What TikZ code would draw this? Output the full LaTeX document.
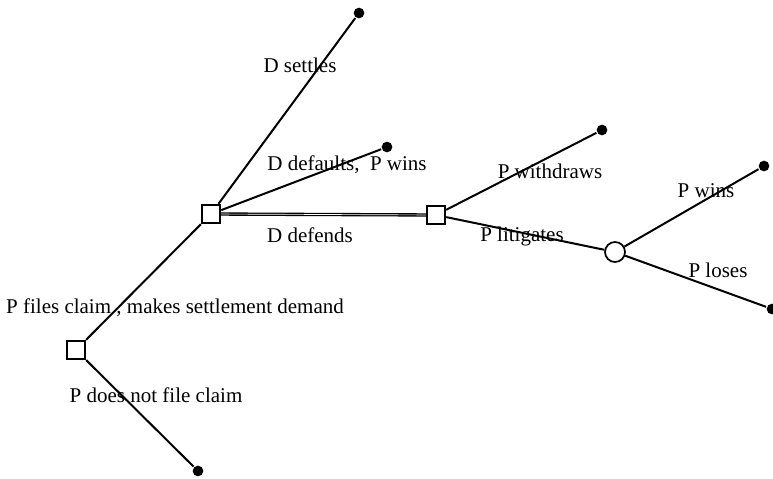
\documentclass[tikz,border=0pt]{standalone}
\usepackage{fontspec}
\setmainfont{Liberation Serif}
\begin{document}
\begin{tikzpicture}[x=0.75pt,y=-0.75pt,line width=1.5pt,
    choice/.style={draw,rectangle,minimum size=14pt,inner sep=0pt,line width=1.3pt},
    chance/.style={draw,circle,minimum size=15pt,inner sep=0pt,line width=1.3pt},
    leaf/.style={fill,circle,minimum size=8pt,inner sep=0pt},
    lbl/.style={anchor=base,inner sep=0pt,font=\fontsize{15.75}{18}\selectfont}]
      \useasboundingbox (0,0) rectangle (773,478);
      \draw
        (76,350) node[choice] (0){}
        (211,214) node[choice] (1){}
        (436,215) node[choice] (2){}
        (615,252) node[chance] (3){}
        (198,471) node[leaf] (4){}
        (359,13) node[leaf] (5){}
        (387,147) node[leaf] (6){}
        (602,130) node[leaf] (7){}
        (764,166) node[leaf] (8){}
        (772,309) node[leaf] (9){};
      \begin{scope}[-]
        \draw (0) to (1);
        \draw (0) to (4);
        \draw (1) to (5);
        \draw (1) to (6);
        \draw[line width=1pt,double,double distance=0.5pt] (1) to (2);
        \draw (2) to (7);
        \draw (2) to (3);
        \draw (3) to (8);
        \draw (3) to (9);
      \end{scope}
      \draw
        (175,313) node[lbl] (l0){P files claim , makes settlement demand}
        (156,402) node[lbl] (l1){P does not file claim}
        (300,72) node[lbl] (l2){D settles}
        (347,170) node[lbl] (l3){D defaults,\ \ P wins}
        (310,242) node[lbl] (l4){D defends}
        (550,178) node[lbl] (l5){P withdraws}
        (522,241) node[lbl] (l6){P litigates}
        (706,197) node[lbl] (l7){P wins}
        (718,277) node[lbl] (l8){P loses};
    \end{tikzpicture}
\end{document}
